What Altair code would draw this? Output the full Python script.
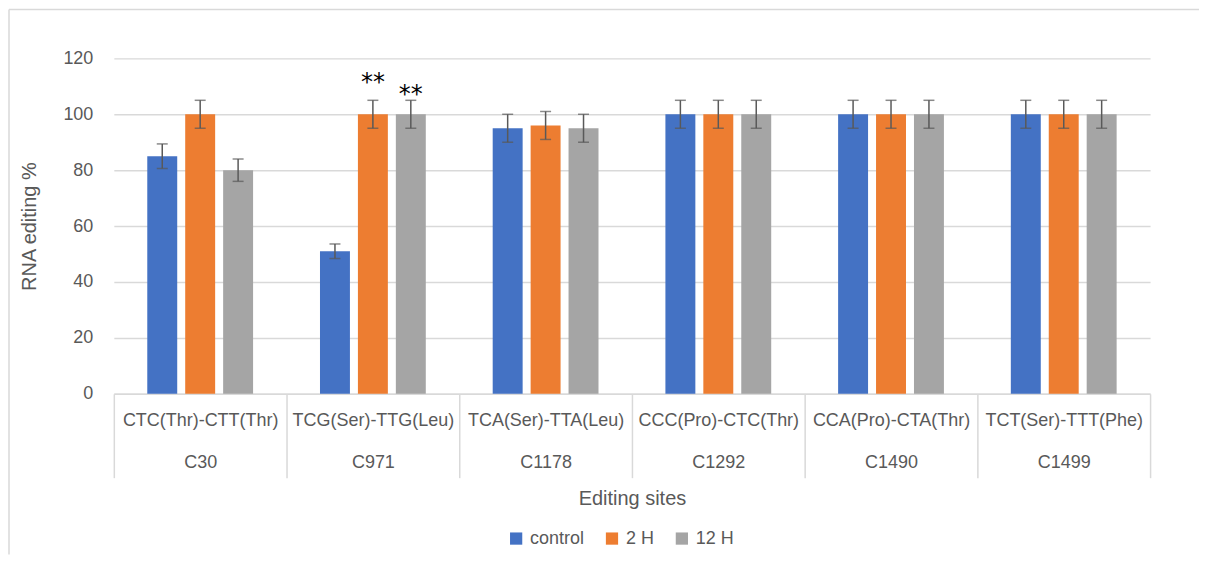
import altair as alt
import pandas as pd

sites = ["C30", "C971", "C1178", "C1292", "C1490", "C1499"]
codons = ["CTC(Thr)-CTT(Thr)", "TCG(Ser)-TTG(Leu)", "TCA(Ser)-TTA(Leu)",
          "CCC(Pro)-CTC(Thr)", "CCA(Pro)-CTA(Thr)", "TCT(Ser)-TTT(Phe)"]
series = ["control", "2 H", "12 H"]
colors = ["#4472C4", "#ED7D31", "#A5A5A5"]

control = [85, 51, 95, 100, 100, 100]
h2 = [100, 100, 96, 100, 100, 100]
h12 = [80, 100, 95, 100, 100, 100]
control_err = [4.4, 2.6, 5, 5, 5, 5]
h2_err = [5, 5, 5, 5, 5, 5]
h12_err = [4, 5, 5, 5, 5, 5]

star_site = ["C971", "C971"]
star_series = ["2 H", "12 H"]
star_y = [113.5, 109]

cats = [f"{c}|{s}" for c, s in zip(codons, sites)]

rows = []
for sname, vals, errs in [("control", control, control_err), ("2 H", h2, h2_err), ("12 H", h12, h12_err)]:
    for i in range(len(sites)):
        rows.append(dict(cat=cats[i], series=sname, value=vals[i],
                         lo=vals[i] - errs[i], hi=vals[i] + errs[i]))
df = pd.DataFrame(rows)

stars = pd.DataFrame({
    "cat": [cats[sites.index(s)] for s in star_site],
    "series": star_series,
    "y": star_y,
    "txt": ["**", "**"],
})

FONT = "Liberation Sans"
GREY_TXT = "#595959"

x_enc = alt.X(
    "cat:N", sort=cats,
    scale=alt.Scale(paddingInner=0, paddingOuter=0),
    axis=alt.Axis(
        title="Editing sites",
        labelExpr="isString(datum.value) ? split(datum.value, '|') : ''",
        labelAngle=0,
        tickBand="extent", tickSize=84, tickColor="#d9d9d9", tickWidth=1.5,
        domainColor="#d9d9d9", domainWidth=1.5, labelPadding=-66, labelLineHeight=42,
        labelFontSize=18, labelColor=GREY_TXT, labelLimit=0, labelOverlap=False,
        labelFont=FONT, titleFont=FONT, titlePadding=10, titleFontSize=20,
        titleColor=GREY_TXT, titleFontWeight="normal", grid=False,
    ),
)
xoff = alt.XOffset("series:N", sort=series,
                   scale=alt.Scale(paddingInner=0.2105, paddingOuter=0.882))
y_scale = alt.Scale(domain=[0, 120])

bars = alt.Chart(df).mark_bar().encode(
    x=x_enc,
    xOffset=xoff,
    y=alt.Y("value:Q", scale=y_scale, axis=alt.Axis(
        title="RNA editing %", values=[0, 20, 40, 60, 80, 100, 120], domain=False, ticks=False,
        gridColor="#d9d9d9", gridWidth=1.5, labelFontSize=18, labelColor=GREY_TXT,
        labelPadding=21, labelFont=FONT, titleFont=FONT, titleFontSize=20,
        titleColor=GREY_TXT, titleFontWeight="normal", titlePadding=23)),
    color=alt.Color("series:N", sort=series,
                    scale=alt.Scale(domain=series, range=colors),
                    legend=alt.Legend(title=None, orient="none", legendX=394, legendY=472,
                                      direction="horizontal", symbolType="square",
                                      symbolSize=150, symbolStrokeWidth=0,
                                      labelFontSize=18, labelColor=GREY_TXT, labelFont=FONT,
                                      columnPadding=18, labelOffset=5)),
)

err = alt.Chart(df).mark_rule(color=GREY_TXT, strokeWidth=1.5).encode(
    x=alt.X("cat:N", sort=cats), xOffset=xoff,
    y=alt.Y("lo:Q", scale=y_scale), y2="hi:Q",
)
cap_lo = alt.Chart(df).mark_tick(color=GREY_TXT, thickness=1.5, size=11).encode(
    x=alt.X("cat:N", sort=cats), xOffset=xoff, y=alt.Y("lo:Q", scale=y_scale),
)
cap_hi = alt.Chart(df).mark_tick(color=GREY_TXT, thickness=1.5, size=11).encode(
    x=alt.X("cat:N", sort=cats), xOffset=xoff, y=alt.Y("hi:Q", scale=y_scale),
)
star_marks = alt.Chart(stars).mark_text(fontSize=24, color="black", baseline="middle",
                                        font="DejaVu Sans", dy=6).encode(
    x=alt.X("cat:N", sort=cats), xOffset=alt.XOffset("series:N", sort=series),
    y=alt.Y("y:Q", scale=y_scale), text="txt:N",
)

frame_df = pd.DataFrame({"k": [0]})
frame_top = alt.Chart(frame_df).mark_rule(color="#d9d9d9", strokeWidth=1.5).encode(
    x=alt.value(-105), x2=alt.value(1087), y=alt.value(-49))
frame_left = alt.Chart(frame_df).mark_rule(color="#d9d9d9", strokeWidth=1.5).encode(
    x=alt.value(-105), y=alt.value(-49), y2=alt.value(497))

chart = alt.layer(frame_top, frame_left, bars, err, cap_lo, cap_hi, star_marks).properties(
    width=1038, height=336, padding=0
).configure(font=FONT).configure_view(stroke=None)

chart.save("out.html", embed_options={"renderer": "svg", "actions": False})
